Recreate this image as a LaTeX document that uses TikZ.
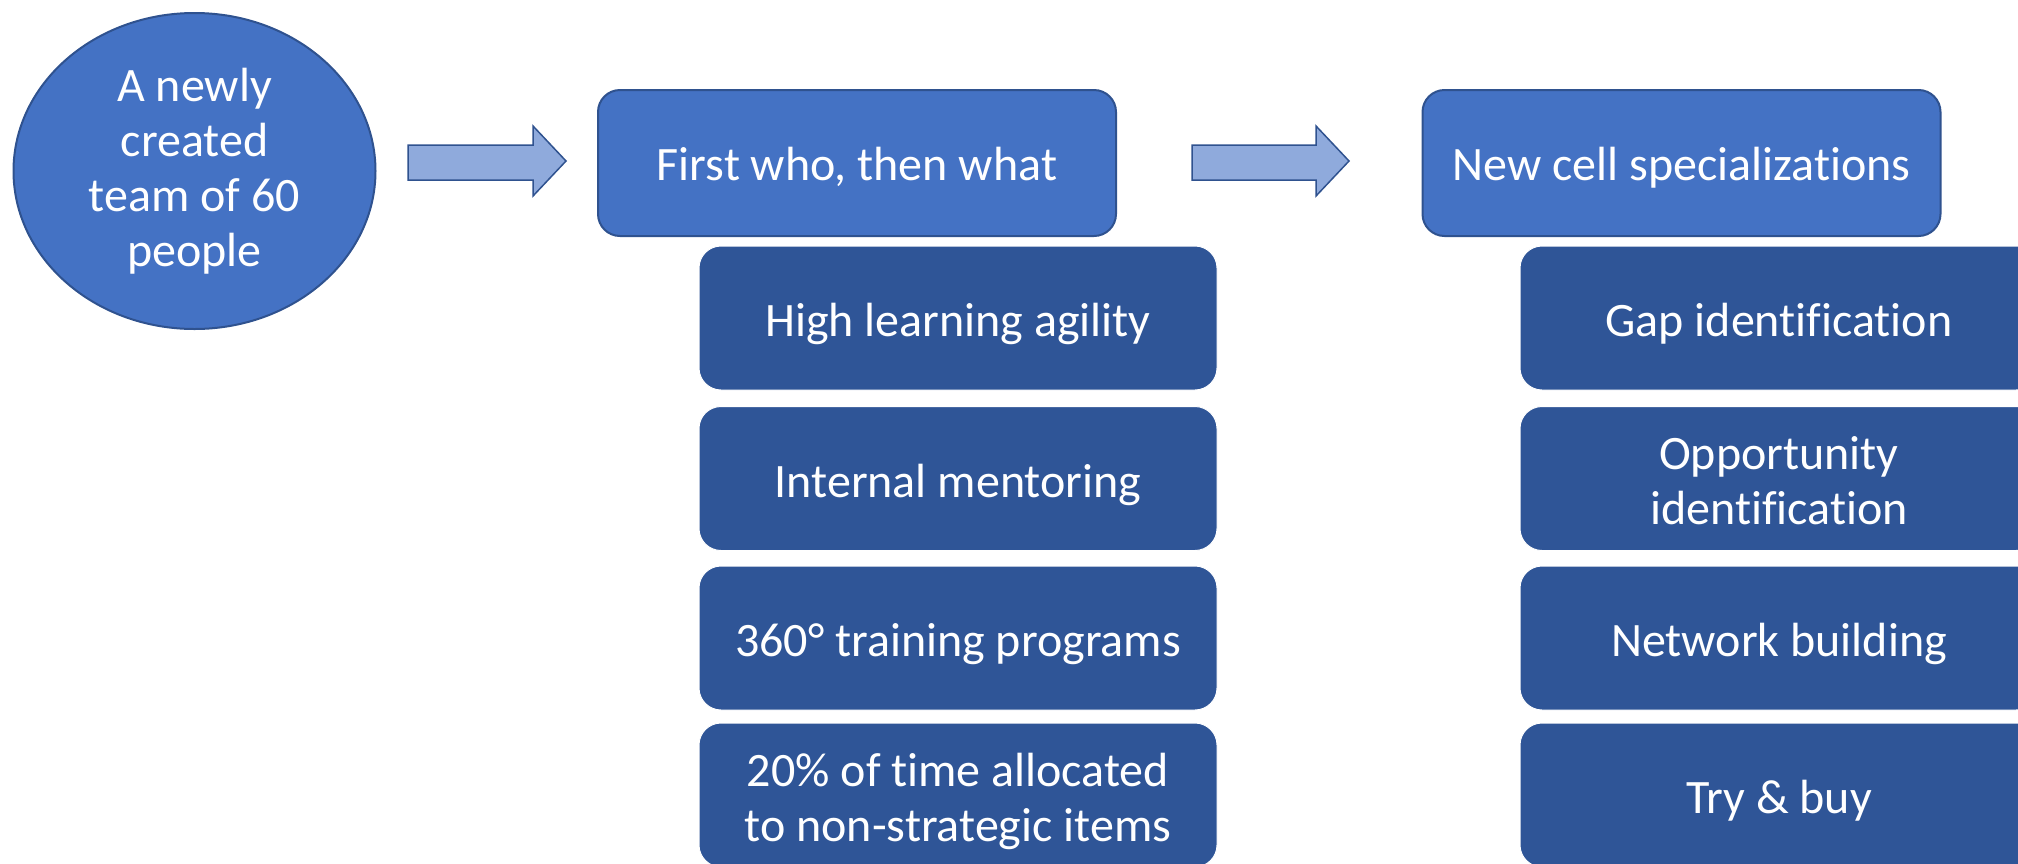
\documentclass[tikz,border=0pt]{standalone}
\usepackage{fontspec}
\setmainfont{Carlito}[Ligatures=NoCommon]
\usetikzlibrary{shapes.geometric}
\definecolor{mainfill}{HTML}{4472C4}
\definecolor{mainedge}{HTML}{2F528F}
\definecolor{subfill}{HTML}{2F5597}
\definecolor{arrowfill}{HTML}{8FAADC}
% line struts that set the text a little lower, as PowerPoint does
\newcommand{\substrut}{\rule[-9pt]{0pt}{55pt}}
\newcommand{\mainstrut}{\rule[-10pt]{0pt}{54pt}}
\tikzset{
  txt/.style={text=white, font=\fontsize{48}{55}\selectfont, align=center, inner sep=0pt},
  mainbox/.style={txt, rectangle, rounded corners=22pt, fill=mainfill, draw=mainedge, line width=2pt,
    minimum width=518pt, minimum height=146pt},
  subbox/.style={txt, rectangle, rounded corners=22pt, fill=subfill, draw=white, line width=1pt,
    minimum width=518pt, minimum height=144pt},
  startnode/.style={txt, ellipse, fill=mainfill, draw=mainedge, line width=2pt,
    minimum width=362pt, minimum height=316pt},
  blockarrow/.style={fill=arrowfill, draw=mainedge, line width=1.5pt, line join=miter}
}
\begin{document}
\begin{tikzpicture}[x=1pt,y=-1pt]
\useasboundingbox (0,0) rectangle (2018,863);
\clip (0,0) rectangle (2018,863);
% start
\node[startnode] (team) at (194.5,171) {A newly\\created\\team of 60\\people};
% main boxes
\node[mainbox] (who) at (857,163) {\mainstrut First who, then what};
\node[mainbox] (cell) at (1681.5,163) {\mainstrut New cell specializations};
% sub boxes left
\node[subbox] (agility) at (958,318) {\substrut High learning agility};
\node[subbox] (mentor) at (958,478.5) {\substrut Internal mentoring};
\node[subbox] (train) at (958,638) {\substrut 360° training programs};
\node[subbox] (time) at (958,795) {\substrut 20\% of time allocated\\\substrut to non-strategic items};
% sub boxes right
\node[subbox] (gap) at (1779,318) {\substrut Gap identification};
\node[subbox] (opp) at (1779,478.5) {\substrut Opportunity\\\substrut identification};
\node[subbox] (net) at (1779,638) {\substrut Network building};
\node[subbox] (try) at (1779,795) {\substrut Try \& buy};
% block arrows
\draw[blockarrow] (408,145) -- (533,145) -- (533,126) -- (566,161) -- (533,196) -- (533,180) -- (408,180) -- cycle;
\draw[blockarrow] (1192,145) -- (1316,145) -- (1316,126) -- (1349,161) -- (1316,196) -- (1316,180) -- (1192,180) -- cycle;
\end{tikzpicture}
\end{document}
